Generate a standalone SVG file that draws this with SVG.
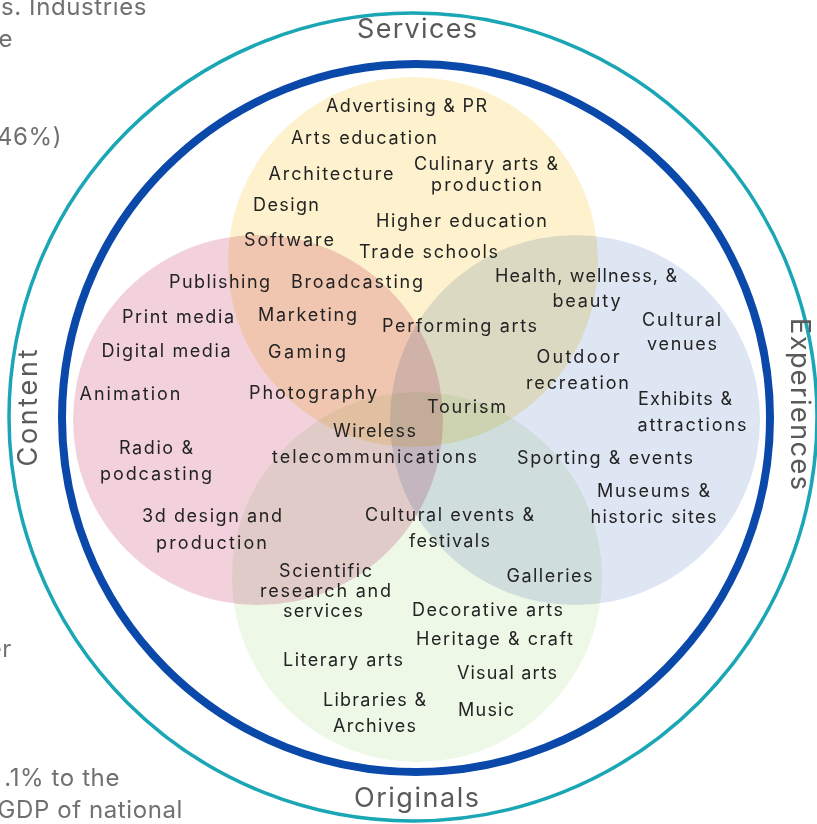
<svg xmlns="http://www.w3.org/2000/svg" width="817" height="824" viewBox="0 0 817 824">
  <style>
    .set { mix-blend-mode: multiply; }
    .lbl { font-family: Inter, "Liberation Sans", sans-serif; font-size: 18px; fill: #232323; text-anchor: middle; }
    .cat { font-family: Inter, "Liberation Sans", sans-serif; font-size: 27px; fill: #5a5a5a; text-anchor: middle; }
    .bg { font-family: Inter, "Liberation Sans", sans-serif; font-size: 24px; fill: #707070; text-anchor: end; letter-spacing: 0.6px; }
    .ring-outer { fill: none; stroke: #1aa6b4; stroke-width: 3.5; }
    .ring-inner { fill: none; stroke: #0a48aa; stroke-width: 8; }
  </style>

  <rect width="817" height="824" fill="#ffffff"/>

  <!-- surrounding page copy, cut by the left edge -->
  <g id="page-text">
    <text class="bg" x="147" y="15">s. Industries</text>
    <text class="bg" x="13" y="47">e</text>
    <text class="bg" x="62" y="145">(46%)</text>
    <text class="bg" x="12" y="657">er</text>
    <text class="bg" x="120" y="785.5">.1% to the</text>
    <text class="bg" x="183" y="818">GDP of national</text>
  </g>

  <!-- rings -->
  <g id="rings">
    <circle class="ring-outer" cx="413" cy="417" r="404"/>
    <circle class="ring-inner" cx="416" cy="418" r="354"/>
  </g>

  <!-- the four overlapping sets -->
  <g id="sets">
    <circle id="set-services" class="set" cx="413" cy="262" r="185" fill="#fdf2cd"/>
    <circle id="set-content" class="set" cx="258" cy="420" r="185" fill="#f2d1dd"/>
    <circle id="set-experiences" class="set" cx="575" cy="420" r="185" fill="#dee5f3"/>
    <circle id="set-originals" class="set" cx="417" cy="577" r="185" fill="#eef8e7"/>
  </g>

  <!-- category labels -->
  <g id="categories">
    <text class="cat" x="417" y="37.5" textLength="120">Services</text>
    <text class="cat" x="416.5" y="806.5" textLength="125">Originals</text>
    <text class="cat" transform="translate(37,408) rotate(-90)" textLength="117">Content</text>
    <text class="cat" transform="translate(791,404) rotate(90)" textLength="172">Experiences</text>
  </g>

  <!-- services -->
  <g id="services-items">
    <text class="lbl" x="406.5" y="111.5" textLength="161">Advertising &amp; PR</text>
    <text class="lbl" x="364" y="144" textLength="146">Arts education</text>
    <text class="lbl" x="331" y="180" textLength="125">Architecture</text>
    <text class="lbl" x="486" y="170" textLength="144">Culinary arts &amp;</text>
    <text class="lbl" x="486.5" y="191" textLength="111">production</text>
    <text class="lbl" x="286" y="211" textLength="66">Design</text>
    <text class="lbl" x="461.5" y="227" textLength="171">Higher education</text>
    <text class="lbl" x="289" y="246" textLength="90">Software</text>
    <text class="lbl" x="428.5" y="258" textLength="139">Trade schools</text>
  </g>

  <!-- content -->
  <g id="content-items">
    <text class="lbl" x="219.5" y="288" textLength="101">Publishing</text>
    <text class="lbl" x="178" y="323" textLength="112">Print media</text>
    <text class="lbl" x="166" y="357" textLength="129">Digital media</text>
    <text class="lbl" x="130" y="400" textLength="101">Animation</text>
    <text class="lbl" x="156" y="454" textLength="74">Radio &amp;</text>
    <text class="lbl" x="156" y="480" textLength="112">podcasting</text>
    <text class="lbl" x="212" y="522" textLength="140">3d design and</text>
    <text class="lbl" x="211.5" y="549" textLength="111">production</text>
  </g>

  <!-- services and content -->
  <g id="services-content-items">
    <text class="lbl" x="357" y="288" textLength="132">Broadcasting</text>
    <text class="lbl" x="307.5" y="321" textLength="99">Marketing</text>
    <text class="lbl" x="307" y="358" textLength="78">Gaming</text>
    <text class="lbl" x="313" y="399" textLength="128">Photography</text>
  </g>

  <!-- centre -->
  <g id="shared-items">
    <text class="lbl" x="459.5" y="332" textLength="155">Performing arts</text>
    <text class="lbl" x="466.5" y="413" textLength="79">Tourism</text>
    <text class="lbl" x="374.5" y="437" textLength="83">Wireless</text>
    <text class="lbl" x="374.5" y="463" textLength="205">telecommunications</text>
  </g>

  <!-- experiences -->
  <g id="experiences-items">
    <text class="lbl" x="586" y="282" textLength="182">Health, wellness, &amp;</text>
    <text class="lbl" x="586.5" y="307" textLength="68">beauty</text>
    <text class="lbl" x="681.5" y="326" textLength="79">Cultural</text>
    <text class="lbl" x="682" y="350" textLength="70">venues</text>
    <text class="lbl" x="578" y="362.5" textLength="83">Outdoor</text>
    <text class="lbl" x="577.5" y="388.5" textLength="103">recreation</text>
    <text class="lbl" x="685" y="405" textLength="94">Exhibits &amp;</text>
    <text class="lbl" x="692" y="431" textLength="109">attractions</text>
    <text class="lbl" x="605" y="464" textLength="176">Sporting &amp; events</text>
    <text class="lbl" x="653.5" y="497" textLength="113">Museums &amp;</text>
    <text class="lbl" x="653.5" y="522.5" textLength="126">historic sites</text>
  </g>

  <!-- originals -->
  <g id="originals-items">
    <text class="lbl" x="449.5" y="521" textLength="169">Cultural events &amp;</text>
    <text class="lbl" x="449.5" y="547" textLength="81">festivals</text>
    <text class="lbl" x="325.5" y="577" textLength="93">Scientific</text>
    <text class="lbl" x="325.5" y="597" textLength="131">research and</text>
    <text class="lbl" x="323" y="617" textLength="80">services</text>
    <text class="lbl" x="549.5" y="581.5" textLength="86">Galleries</text>
    <text class="lbl" x="487.5" y="616" textLength="151">Decorative arts</text>
    <text class="lbl" x="494.5" y="645" textLength="157">Heritage &amp; craft</text>
    <text class="lbl" x="343" y="666" textLength="120">Literary arts</text>
    <text class="lbl" x="507" y="679" textLength="100">Visual arts</text>
    <text class="lbl" x="374.5" y="705.5" textLength="103">Libraries &amp;</text>
    <text class="lbl" x="374.5" y="731.5" textLength="83">Archives</text>
    <text class="lbl" x="486" y="716" textLength="56">Music</text>
  </g>
</svg>
